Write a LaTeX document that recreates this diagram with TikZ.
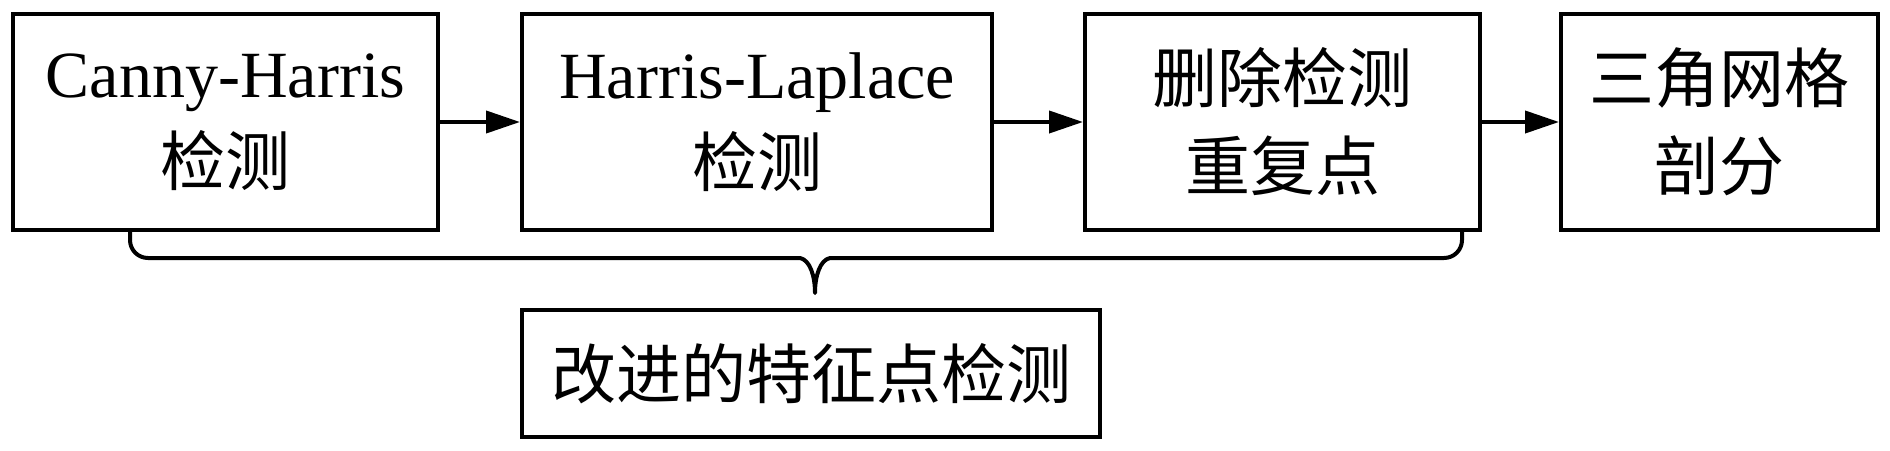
\documentclass[tikz,border=0pt]{standalone}
\usepackage{fontspec}
\setmainfont{Liberation Serif}
\newfontfamily\cjk{Noto Sans CJK SC}
\usetikzlibrary{arrows.meta}
\newcommand{\zh}[1]{{\cjk\fontsize{65}{88}\selectfont #1}}
\tikzset{
  x=1pt, y=-1pt,
  box/.style={draw, line width=4pt, inner sep=0pt, minimum height=216pt, align=center,
    font=\fontsize{66}{88}\selectfont},
  flow/.style={line width=4pt, -{Triangle[length=34pt,width=22pt]}},
  bracepath/.style={line width=4pt, line cap=round, line join=round}
}
\begin{document}
\begin{tikzpicture}
\useasboundingbox (0,0) rectangle (1890,450);
\node[box, minimum width=425pt] (b1) at (225.5,122) {Canny-Harris\\\zh{检测}};
\node[box, minimum width=470pt] (b2) at (757,122) {Harris-Laplace\\\zh{检测}};
\node[box, minimum width=395pt] (b3) at (1282.5,122) {\zh{删除检测}\\\zh{重复点}};
\node[box, minimum width=317pt] (b4) at (1719.5,122) {\zh{三角网格}\\\zh{剖分}};
\node[box, minimum width=578pt, minimum height=127pt] (b5) at (811,373.5) {\zh{改进的特征点检测}};
\draw[flow] (b1.east) -- (b2.west);
\draw[flow] (b2.east) -- (b3.west);
\draw[flow] (b3.east) -- (b4.west);
\coordinate (bl) at (130,230);
\coordinate (br) at (1462,230);
\coordinate (tip) at (815,293);
\draw[bracepath] (bl) -- (130,240) .. controls (130,250) and (138,258) .. (148,258)
  -- (800,258) .. controls (810,260) and (815,276) .. (tip)
  .. controls (815,276) and (820,260) .. (830,258)
  -- (1444,258) .. controls (1454,258) and (1462,250) .. (1462,240) -- (br);
\end{tikzpicture}
\end{document}
